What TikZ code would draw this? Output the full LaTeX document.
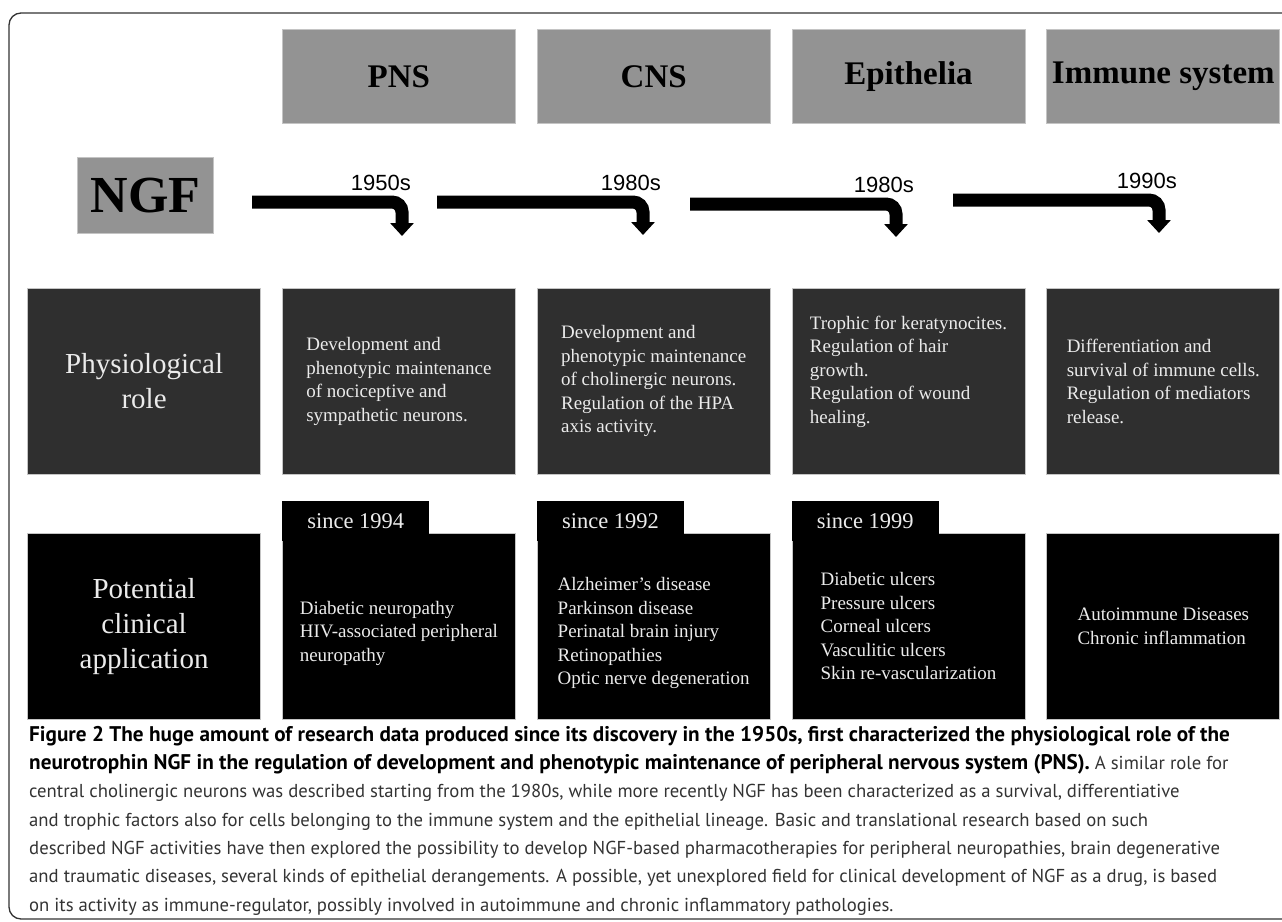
\documentclass[tikz,border=0pt]{standalone}
\usepackage{fontspec}
\setmainfont{Liberation Serif}
\newfontfamily\yearfont{Liberation Sans}
\newfontfamily\capfont{PT Sans}
\usetikzlibrary{positioning,arrows.meta}

\definecolor{hdrgray}{HTML}{939393}
\definecolor{rolegray}{HTML}{2F2F2F}
\definecolor{edgegray}{HTML}{C4C4C4}

\newcommand{\capbold}[1]{\textbf{\color{black}\fontsize{21.2}{28.3}\selectfont #1}}

\tikzset{
  hdr/.style={rectangle,fill=hdrgray,draw=edgegray,line width=0.8pt,minimum width=233pt,minimum height=94pt,inner sep=0pt,font=\bfseries\fontsize{33}{40}\selectfont},
  rolebox/.style={rectangle,fill=rolegray,draw=edgegray,line width=0.8pt,minimum width=233pt,minimum height=186pt,inner sep=0pt,text=white!92!black,align=left,font=\fontsize{19}{23.5}\selectfont},
  clinbox/.style={rolebox,fill=black},
  sincetab/.style={rectangle,fill=black,minimum width=147pt,minimum height=40pt,inner xsep=24pt,inner ysep=0pt,anchor=north west,text=white!92!black,font=\fontsize{22.5}{27}\selectfont},
  rowlabel/.style={align=center,font=\fontsize{29}{35}\selectfont},
  bent/.style={line width=13pt,rounded corners=10pt,-{Triangle[width=23pt,length=13pt]}},
  year/.style={anchor=south east,inner sep=0pt,font=\yearfont\fontsize{22}{26}\selectfont},
}

\begin{document}
\begin{tikzpicture}[x=1pt,y=-1pt]
    \useasboundingbox (0,0) rectangle (1282,921);
    \draw[line width=1.3pt,black!80,rounded corners=12pt] (1282,13) -- (9,13) -- (9,919) -- (1282,919);

    % headers
    \node[hdr,anchor=north west] (pns) at (282,29) {PNS};
    \node[hdr,right=21pt of pns] (cns) {CNS};
    \node[hdr,right=21pt of cns] (epi) {Epithelia};
    \node[hdr,right=21pt of epi] (imm) {Immune system};

    \node[hdr,anchor=north west,minimum width=136pt,minimum height=76pt,font=\bfseries\fontsize{52}{60}\selectfont] (ngf) at (77,157) {NGF};

    % timeline arrows
    \coordinate (a1s) at (252,202); \coordinate (a1c) at (402,202); \coordinate (a1t) at (402,236);
    \coordinate (a2s) at (437,202); \coordinate (a2c) at (643,202); \coordinate (a2t) at (643,235);
    \coordinate (a3s) at (690,204); \coordinate (a3c) at (896,204); \coordinate (a3t) at (896,237);
    \coordinate (a4s) at (953,200); \coordinate (a4c) at (1159,200); \coordinate (a4t) at (1159,233);
    \draw[bent] (a1s) -- (a1c) -- (a1t);
    \draw[bent] (a2s) -- (a2c) -- (a2t);
    \draw[bent] (a3s) -- (a3c) -- (a3t);
    \draw[bent] (a4s) -- (a4c) -- (a4t);
    \node[year] (y1) at ([xshift=9pt,yshift=11.5pt]a1c) {1950s};
    \node[year] (y2) at ([xshift=18pt,yshift=11.5pt]a2c) {1980s};
    \node[year] (y3) at ([xshift=18pt,yshift=11.5pt]a3c) {1980s};
    \node[year] (y4) at ([xshift=18pt,yshift=11.5pt]a4c) {1990s};

    % physiological role
    \node[rolebox,anchor=north west] (rolepns) at (282,288) {Development and\\phenotypic maintenance\\of nociceptive and\\sympathetic neurons.};
    \node[rolebox,right=21pt of rolepns] (rolecns) {Development and\\phenotypic maintenance\\of cholinergic neurons.\\Regulation of the HPA\\axis activity.};
    \node[rolebox,right=21pt of rolecns] (roleepi) {Trophic for keratynocites.\\Regulation of hair\\growth.\\Regulation of wound\\healing.\\ \mbox{}};
    \node[rolebox,right=21pt of roleepi] (roleimm) {Differentiation and\\survival of immune cells.\\Regulation of mediators\\release.};
    \node[rolebox,rowlabel,left=21pt of rolepns] (rolelabel) {Physiological\\role};

    % clinical application
    \node[clinbox,below=58pt of rolepns] (clinpns) {\rule{0pt}{27pt}Diabetic neuropathy\\HIV-associated peripheral\\neuropathy};
    \node[clinbox,below=58pt of rolecns] (clincns) {\rule{0pt}{27pt}Alzheimer’s disease\\Parkinson disease\\Perinatal brain injury\\Retinopathies\\Optic nerve degeneration};
    \node[clinbox,below=58pt of roleepi] (clinepi) {Diabetic ulcers\\Pressure ulcers\\Corneal ulcers\\Vasculitic ulcers\\Skin re-vascularization};
    \node[clinbox,below=58pt of roleimm] (clinimm) {Autoimmune Diseases\\Chronic inflammation};
    \node[clinbox,rowlabel,left=21pt of clinpns] (clinlabel) {Potential\\clinical\\application};

    \node[sincetab] (tabpns) at ([yshift=32pt]clinpns.north west) {since 1994};
    \node[sincetab] (tabcns) at ([yshift=32pt]clincns.north west) {since 1992};
    \node[sincetab] (tabepi) at ([yshift=32pt]clinepi.north west) {since 1999};

    % caption
    \node[anchor=north west,inner sep=0pt,align=left,text=black!80,font=\capfont\fontsize{18.7}{28.3}\selectfont] (caption) at (29,726)
      {\capbold{Figure 2 The huge amount of research data produced since its discovery in the 1950s, first characterized the physiological role of the}\\
       \capbold{neurotrophin NGF in the regulation of development and phenotypic maintenance of peripheral nervous system (PNS).} A similar role for\\
       central cholinergic neurons was described starting from the 1980s, while more recently NGF has been characterized as a survival, differentiative\\
       and trophic factors also for cells belonging to the immune system and the epithelial lineage. Basic and translational research based on such\\
       described NGF activities have then explored the possibility to develop NGF-based pharmacotherapies for peripheral neuropathies, brain degenerative\\
       and traumatic diseases, several kinds of epithelial derangements. A possible, yet unexplored field for clinical development of NGF as a drug, is based\\
       on its activity as immune-regulator, possibly involved in autoimmune and chronic inflammatory pathologies.};
\end{tikzpicture}
\end{document}
